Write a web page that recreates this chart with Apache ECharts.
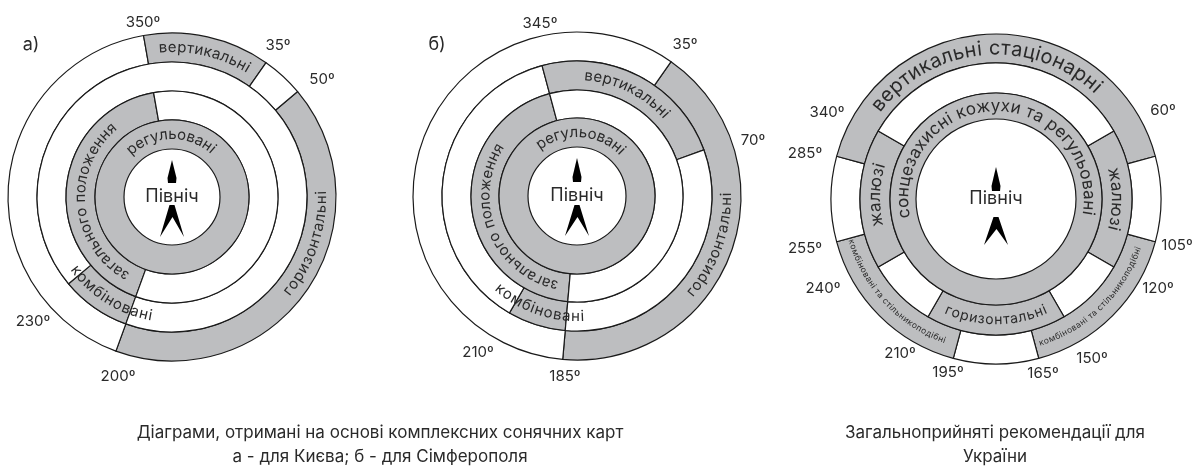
<!DOCTYPE html>
<html>
<head>
<meta charset="utf-8">
<script src="https://cdn.jsdelivr.net/npm/echarts@6/dist/echarts.min.js"></script>
<style>
html, body { margin: 0; padding: 0; background: #fff; }
#main { width: 1197px; height: 471px; }
</style>
</head>
<body>
<div id="main"></div>
<script>
// сегменти кілець: [кільце, від (º), до (º), підпис]; кільце 0 - зовнішнє
var kyivSegments = [
    [0, 350, 35, 'вертикальні'],
    [0, 50, 200, 'горизонтальні'],
    [1, 200, 230, 'комбіновані'],
    [2, 200, 350, 'загального положення'],
    [3, 0, 360, 'регульовані']
];
var simfSegments = [
    [0, 35, 185, 'горизонтальні'],
    [1, 345, 70, 'вертикальні'],
    [1, 185, 210, 'комбіновані'],
    [2, 185, 345, 'загального положення'],
    [3, 0, 360, 'регульовані']
];
var ukrSegments = [
    [0, 285, 75, 'вертикальні стаціонарні'],
    [0, 105, 165, 'комбіновані та стільникоподібні'],
    [0, 195, 255, 'комбіновані та стільникоподібні'],
    [1, 60, 120, 'жалюзі'],
    [1, 150, 210, 'горизонтальні'],
    [1, 240, 300, 'жалюзі'],
    [2, 0, 360, 'сонцезахисні кожухи та регульовані']
];

// підписи кутів
var kyivTicks = ['350º', '35º', '50º', '230º', '200º'];
var simfTicks = ['345º', '35º', '70º', '210º', '185º'];
var ukrTicks = ['340º', '60º', '285º', '105º', '255º', '120º', '240º', '150º', '210º', '195º', '165º'];

var centerText = 'Північ';
var captionLeft = ['Діаграми, отримані на основі комплексних сонячних карт', 'а - для Києва; б - для Сімферополя'];
var captionRight = ['Загальноприйняті рекомендації для', 'України'];

// ---- розміщення (не дані) ----
var GREY = '#bdbec0', LINE = '#1a1a1a', TEXT = '#2a2a2a', FONT = 'Inter';

var diagrams = [
    {
        segs: kyivSegments, center: [172, 197], radii: [164, 135, 106, 77, 48],
        // [середній кут тексту, розмір шрифту, напрям: 1 - за год. стрілкою, -1 - проти]
        textLayout: [[13, 15, 1], [109, 15, -1], [212, 15, -1], [265, 15, 1], [359, 15, 1]],
        ticks: kyivTicks, tickPos: [[143, 22], [278, 45], [322, 79], [33, 321], [118, 376]],
        letter: 'а)', letterPos: [31, 45], north: [-37, -14, 8, 40], northFont: 18
    },
    {
        segs: simfSegments, center: [577, 196], radii: [164, 135, 106, 78, 49],
        textLayout: [[110, 15, -1], [26, 15, 1], [199, 15, -1], [248, 15, 1], [4, 15, 1]],
        ticks: simfTicks, tickPos: [[540, 23], [685, 44], [753, 140], [478, 352], [565, 376]],
        letter: 'б)', letterPos: [437, 45], north: [-38, -14, 9, 40], northFont: 18
    },
    {
        segs: ukrSegments, center: [996, 199], radii: [165, 136, 106, 80],
        textLayout: [[355, 20, 1], [136, 8.5, -1], [227, 8.5, -1], [90, 17, 1], [180, 14, -1], [272, 17, 1], [359, 17, 1]],
        ticks: ukrTicks,
        tickPos: [[827, 112], [1163, 110], [805, 153], [1177, 245], [805, 248], [1158, 288],
                  [823, 288], [1092, 358], [900, 353], [948, 372], [1043, 373]],
        letter: '', letterPos: [0, 0], north: [-32, -8, 18, 46], northFont: 18
    }
];

function mod(a) { return ((a % 360) + 360) % 360; }

// будуємо дані одного кільця для pie: сірі сегменти + білі проміжки
function ringSeries(d, ring) {
    var list = d.segs.filter(function (s) { return s[0] === ring; })
        .sort(function (a, b) { return a[1] - b[1]; });
    var data = [];
    var start = list.length ? list[0][1] : 0;
    if (list.length === 1 && list[0][2] - list[0][1] === 360) {
        data.push({ value: 360, name: list[0][3], itemStyle: { color: GREY } });
    } else if (!list.length) {
        data.push({ value: 360, name: '', itemStyle: { color: '#fff' } });
    } else {
        var cur = start;
        list.forEach(function (s) {
            var gap = mod(s[1] - cur);
            if (gap > 0) data.push({ value: gap, name: '', itemStyle: { color: '#fff' } });
            data.push({ value: mod(s[2] - s[1]) || 360, name: s[3], itemStyle: { color: GREY } });
            cur = s[2];
        });
        var last = mod(start - cur);
        if (last > 0) data.push({ value: last, name: '', itemStyle: { color: '#fff' } });
    }
    return {
        type: 'pie',
        silent: true,
        center: d.center,
        radius: [d.radii[ring + 1], d.radii[ring]],
        startAngle: mod(90 - start),
        clockwise: true,
        avoidLabelOverlap: false,
        label: { show: false },
        labelLine: { show: false },
        itemStyle: { borderColor: LINE, borderWidth: 1.2 },
        data: data
    };
}

var ctx = document.createElement('canvas').getContext('2d');

// текст уздовж дуги, по літері
function arcText(cx, cy, r, mid, text, size, dir, out) {
    ctx.font = size + 'px ' + FONT;
    var sp = size * 0.04;
    var widths = text.split('').map(function (ch) { return ctx.measureText(ch).width + sp; });
    var total = widths.reduce(function (a, b) { return a + b; }, 0);
    var m = mid * Math.PI / 180;
    var acc = 0;
    text.split('').forEach(function (ch, i) {
        var off = (acc + widths[i] / 2 - total / 2) / r;
        acc += widths[i];
        var b = m + dir * off;
        var rot = dir === 1 ? -b : Math.PI - b;
        out.push({
            type: 'text', z: 100, silent: true,
            x: cx + r * Math.sin(b), y: cy - r * Math.cos(b),
            rotation: rot,
            style: {
                text: ch, fontSize: size, fontFamily: FONT, fill: TEXT,
                align: 'center', verticalAlign: 'middle',
                textAlign: 'center', textVerticalAlign: 'middle'
            }
        });
    });
}

function plainText(x, y, text, size, out) {
    out.push({
        type: 'text', z: 100, silent: true, x: x, y: y,
        style: {
            text: text, fontSize: size, fontFamily: FONT, fill: TEXT,
            align: 'center', verticalAlign: 'middle',
            textAlign: 'center', textVerticalAlign: 'middle'
        }
    });
}

var series = [];
var elements = [];

diagrams.forEach(function (d) {
    var cx = d.center[0], cy = d.center[1];
    for (var ring = 0; ring < d.radii.length - 1; ring++) {
        series.push(ringSeries(d, ring));
    }
    // підписи сегментів
    d.segs.forEach(function (s, i) {
        var lay = d.textLayout[i];
        var r = (d.radii[s[0]] + d.radii[s[0] + 1]) / 2;
        arcText(cx, cy, r, lay[0], s[3], lay[1], lay[2], elements);
    });
    // кути
    d.ticks.forEach(function (t, i) {
        plainText(d.tickPos[i][0], d.tickPos[i][1], t, 15, elements);
    });
    if (d.letter) plainText(d.letterPos[0], d.letterPos[1], d.letter, 18, elements);
    // Північ + стрілка
    plainText(cx, cy, centerText, d.northFont, elements);
    var n = d.north;
    elements.push({
        type: 'polygon', z: 100, silent: true,
        shape: { points: [[cx, cy + n[0]], [cx + 4.5, cy + n[1] - 5], [cx + 4, cy + n[1]], [cx - 4, cy + n[1]], [cx - 4.5, cy + n[1] - 5]] },
        style: { fill: '#000' }
    });
    elements.push({
        type: 'polygon', z: 100, silent: true,
        shape: { points: [[cx - 2.5, cy + n[2]], [cx + 2.5, cy + n[2]], [cx + 12, cy + n[3]], [cx + 0.5, cy + n[2] + 12], [cx - 12, cy + n[3]]] },
        style: { fill: '#000' }
    });
});

// підписи під діаграмами
plainText(380, 433, captionLeft[0], 17, elements);
plainText(380, 457, captionLeft[1], 17, elements);
plainText(995, 433, captionRight[0], 17, elements);
plainText(995, 457, captionRight[1], 17, elements);

var myChart = echarts.init(document.getElementById('main'));
var option = {
    animation: false,
    backgroundColor: '#fff',
    series: series,
    graphic: elements
};
myChart.setOption(option);
</script>
</body>
</html>
